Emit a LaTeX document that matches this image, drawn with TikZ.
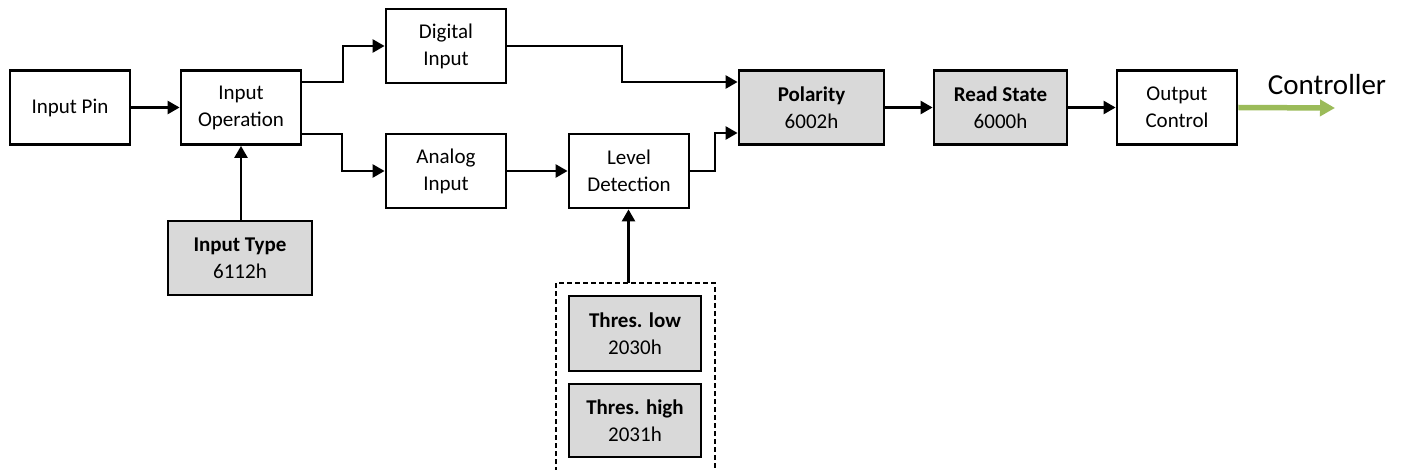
\documentclass[tikz,border=0pt]{standalone}
\usepackage{fontspec}
\setmainfont{Carlito}
\usetikzlibrary{arrows.meta}
\definecolor{boxgray}{HTML}{D9D9D9}
\definecolor{ctrlgreen}{HTML}{9BBB59}
\tikzset{
  blockbox/.style={draw, line width=2.8pt, rectangle, align=center, inner sep=0pt,
    minimum width=120pt, minimum height=74pt,
    font=\fontsize{21}{27}\selectfont},
  parambox/.style={blockbox, fill=boxgray},
  flow/.style={line width=2.5pt, -{Triangle[length=12pt,width=13pt]}},
}
\begin{document}
\begin{tikzpicture}[x=1pt,y=-1pt]
  \useasboundingbox (0,0) rectangle (1405,470);
  \clip (0,0) rectangle (1405,470);

  % main signal chain
  \node[blockbox] (pin)   at (70,107.5)  {Input Pin};
  \node[blockbox] (oper)  at (241,107.5) {Input\\Operation};
  \node[blockbox] (dig)   at (446,46)    {Digital\\Input};
  \node[blockbox] (ana)   at (446,171)   {Analog\\Input};
  \node[blockbox] (lvl)   at (629,171)   {Level\\Detection};
  \node[parambox, minimum width=145pt] (pol) at (811.5,107.5) {\textbf{Polarity}\\6002h};
  \node[parambox, minimum width=133pt] (rst) at (1000.5,107.5) {\textbf{Read State}\\6000h};
  \node[blockbox] (out)   at (1177,107.5) {Output\\Control};

  % configuration objects
  \node[parambox, minimum width=144pt] (itype) at (240,258) {\textbf{Input Type}\\6112h};
  \node[parambox, minimum width=132pt, minimum height=75pt] (tlow)  at (635,333.5) {\textbf{Thres. low}\\2030h};
  \node[parambox, minimum width=132pt, minimum height=73pt] (thigh) at (635,420.5) {\textbf{Thres. high}\\2031h};

  % dashed group around the thresholds (open towards the bottom edge)
  \coordinate (grpL) at (556,283);
  \coordinate (grpR) at (715,283);
  \coordinate (grpT) at (628.5,283);
  \draw[line width=2.5pt, dash pattern=on 5pt off 3pt]
    (556,480) -- (grpL) -- (grpR) -- (715,480);

  % connectors
  \draw[flow] (pin) -- (oper);
  \draw[flow] (oper.east |- 0,82) -| (343,82) |- (dig.west);
  \draw[flow] (oper.east |- 0,134) -| (342,134) |- (ana.west);
  \draw[flow] (itype.north -| oper.south) -- (oper.south);
  \draw[flow] (dig.east) -| (622,82) -- (pol.west |- 0,82);
  \draw[flow] (ana) -- (lvl);
  \draw[flow] (lvl.east) -| (715,133) -- (pol.west |- 0,133);
  \draw[flow] (grpT) -- (lvl.south -| grpT);
  \draw[flow] (pol) -- (rst);
  \draw[flow] (rst) -- (out);

  % output towards the controller
  \coordinate (ctrl) at (1335,108);
  \draw[ctrlgreen, line width=5.5pt, -{Triangle[length=15pt,width=16pt]}] (out.east) -- (ctrl);
  \node[anchor=base, inner sep=0pt, font=\fontsize{29}{34}\selectfont] (ctrltxt) at (1327,95) {Controller};
\end{tikzpicture}
\end{document}
